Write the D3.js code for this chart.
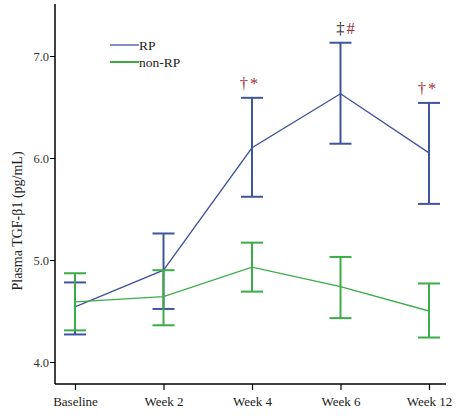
<!DOCTYPE html>
<html><head><meta charset="utf-8">
<script src="https://cdn.jsdelivr.net/npm/d3@7"></script>
<style>body{margin:0;background:#fff}</style>
</head><body><svg id="c" width="463" height="419" font-family="'Liberation Serif','Times New Roman',serif"></svg>
<script>
const categories = ["Baseline","Week 2","Week 4","Week 6","Week 12"];
const rpMean = [4.54, 4.90, 6.10, 6.63, 6.05];
const rpLow  = [4.27, 4.52, 5.62, 6.14, 5.55];
const rpHigh = [4.78, 5.26, 6.59, 7.13, 6.54];
const nonMean = [4.59, 4.64, 4.93, 4.74, 4.50];
const nonLow  = [4.31, 4.36, 4.69, 4.43, 4.24];
const nonHigh = [4.87, 4.90, 5.17, 5.03, 4.77];
const yTicks = [4.0, 5.0, 6.0, 7.0];
const annotations = [
  {cat:"Week 4", parts:[{t:"†",c:"#a3303a"},{t:"*",c:"#a3303a"}], above:6.59, shift:-3},
  {cat:"Week 6", parts:[{t:"‡",c:"#222"},{t:"#",c:"#a3303a"}], above:7.13, shift:5},
  {cat:"Week 12", parts:[{t:"†",c:"#a3303a"},{t:"*",c:"#a3303a"}], above:6.54, shift:-2}
];
const series = [
  {name:"RP", mean:rpMean, low:rpLow, high:rpHigh, color:"#3f559e"},
  {name:"non-RP", mean:nonMean, low:nonLow, high:nonHigh, color:"#3cac48"}
];

const FONT = "'Liberation Serif','Times New Roman',serif";
const svg = d3.select("#c");
const mLeft = 55, mRight = 446, mTop = 4, mBottom = 384;
const x = d3.scalePoint().domain(categories).range([75, 429]);
const y = d3.scaleLinear().domain([4.0 - 22/102, 7.0 + 52/102]).range([mBottom, mTop]);

// axes
const yAxis = svg.append("g").attr("transform",`translate(${mLeft},0)`)
  .call(d3.axisLeft(y).tickValues(yTicks).tickFormat(d3.format(".1f")).tickSize(5).tickSizeOuter(0));
yAxis.attr("font-family",FONT).attr("font-size",12.5);
yAxis.select(".domain").remove();
yAxis.selectAll(".tick line").attr("stroke","#000");
yAxis.selectAll(".tick text").attr("fill","#333").attr("x",-6);
svg.append("line").attr("x1",mLeft).attr("x2",mLeft).attr("y1",mTop).attr("y2",mBottom).attr("stroke","#000").attr("stroke-width",1.5);

const xAxis = svg.append("g").attr("transform",`translate(0,${mBottom})`)
  .call(d3.axisBottom(x).tickSize(6).tickSizeOuter(0));
xAxis.attr("font-family",FONT).attr("font-size",13);
xAxis.select(".domain").remove();
svg.append("line").attr("x1",mLeft).attr("x2",mRight).attr("y1",mBottom).attr("y2",mBottom).attr("stroke","#000").attr("stroke-width",1.5);
xAxis.selectAll(".tick line").attr("stroke","#000").attr("stroke-width",1.2);
xAxis.selectAll(".tick text").attr("fill","#222").attr("y",10).attr("dy","0.95em");

svg.append("text").attr("transform",`translate(22,221) rotate(-90)`)
  .attr("text-anchor","middle").attr("font-size",14).attr("fill","#222").text("Plasma TGF-β1 (pg/mL)");

// series
const line = d3.line().x((d,i)=>x(categories[i])).y(d=>y(d));
series.forEach(s=>{
  svg.append("path").datum(s.mean).attr("d",line).attr("fill","none").attr("stroke",s.color).attr("stroke-width",1.3);
  const g = svg.append("g").attr("stroke",s.color).attr("stroke-width",2);
  categories.forEach((c,i)=>{
    const cx = x(c);
    g.append("line").attr("x1",cx).attr("x2",cx).attr("y1",y(s.low[i])).attr("y2",y(s.high[i]));
    g.append("line").attr("x1",cx-11).attr("x2",cx+11).attr("y1",y(s.low[i])).attr("y2",y(s.low[i]));
    g.append("line").attr("x1",cx-11).attr("x2",cx+11).attr("y1",y(s.high[i])).attr("y2",y(s.high[i]));
  });
});

// annotations
annotations.forEach(a=>{
  const t = svg.append("text").attr("x",x(a.cat)+a.shift).attr("y",y(a.above)-9)
    .attr("text-anchor","middle").attr("font-size",16.5);
  a.parts.forEach((p,i)=>t.append("tspan").attr("fill",p.c).attr("dx",i?2:0).text(p.t));
});

// legend
series.forEach((s,i)=>{
  const ly = 45 + i*17;
  svg.append("line").attr("x1",110).attr("x2",139).attr("y1",ly).attr("y2",ly).attr("stroke",s.color).attr("stroke-width",i?2:1.3);
  svg.append("text").attr("x",139).attr("y",ly+4.5).attr("font-size",13.5).attr("fill","#222").text(s.name);
});
</script></body></html>
